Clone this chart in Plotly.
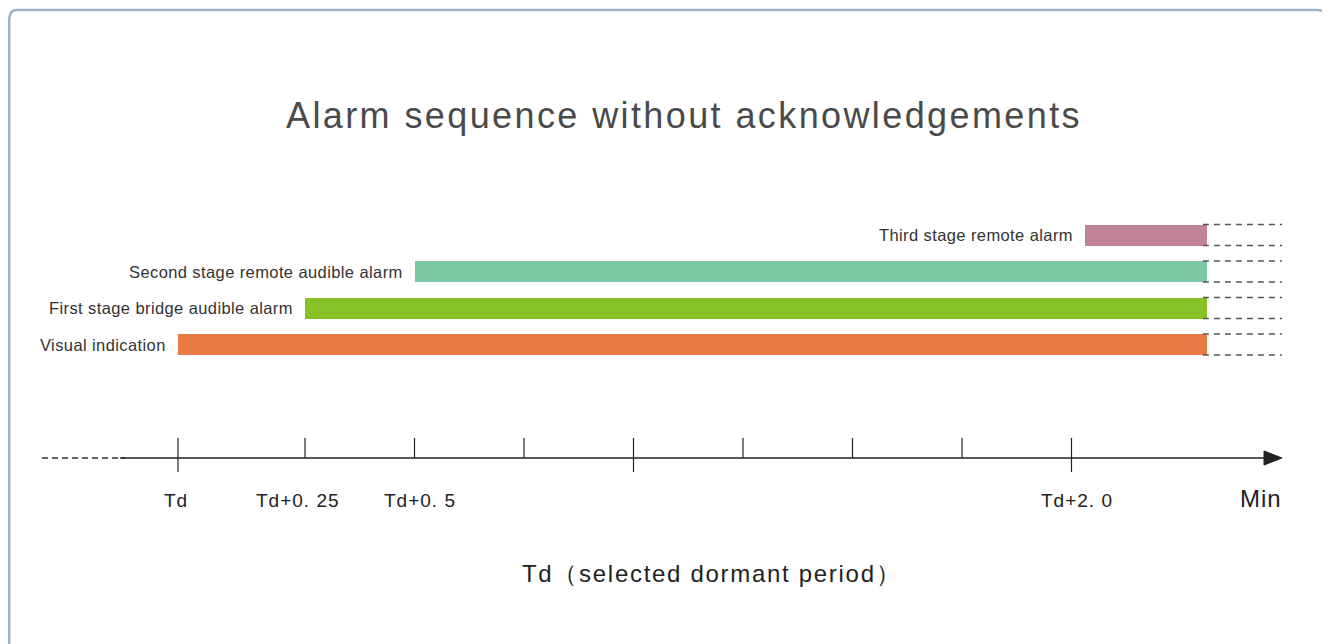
import plotly.graph_objects as go

# ---- data ----
stages = ["Visual indication", "First stage bridge audible alarm",
          "Second stage remote audible alarm", "Third stage remote alarm"]
start_min = [-0.04, 0.25, 0.5, 2.03]
end_min = [2.31, 2.31, 2.31, 2.31]
bar_colors = ["#E97A45", "#86C226", "#7BC6A4", "#C08298"]

tick_pos = [-0.04, 0.25, 0.5, 0.75, 1.0, 1.25, 1.5, 1.75, 2.0]
major_ticks = [-0.04, 1.0, 2.0]
tick_labels = ["Td", "Td+0. 25", "Td+0. 5", "Td+2. 0"]
tick_label_pos = [-0.04, 0.25, 0.5, 2.0]

title_text = "Alarm sequence without acknowledgements"
axis_caption = "Td（selected dormant period）"
unit_text = "Min"

# ---- layout constants (screen pixels; page body has an 8px margin) ----
W, H = 1330, 644
OFF = 8
X0_PX, PX_PER_MIN = 195.5 - OFF, 438.0     # paper pixel of t=0 and scale
ROW0_PX, PX_PER_ROW = 344.5 - OFF, 36.5    # paper pixel of row 0 and row spacing
x_range = [(0 - X0_PX) / PX_PER_MIN, (W - X0_PX) / PX_PER_MIN]
y_range = [(ROW0_PX - H) / PX_PER_ROW, (ROW0_PX - 0) / PX_PER_ROW]
FONT = "Liberation Sans, Arial, sans-serif"
label_xshift = [-2, -7, 5, 5]   # small visual nudges of tick labels

def ypx(p):
    return (ROW0_PX - (p - OFF)) / PX_PER_ROW

def xpx(p):
    return ((p - OFF) - X0_PX) / PX_PER_MIN

def spaced(text, sp):
    return f'<span style="letter-spacing:{sp}px">{text}</span>'

rows = list(range(len(stages)))
bar_w = 21 / PX_PER_ROW

fig = go.Figure()

fig.add_trace(go.Bar(
    y=rows, x=[e - s for s, e in zip(start_min, end_min)], base=start_min,
    orientation="h", width=bar_w, marker=dict(color=bar_colors, line=dict(width=0)),
    hoverinfo="skip", showlegend=False))

# dashed continuation lines at bar edges
for r, e in zip(rows, end_min):
    for edge in (r + bar_w / 2, r - bar_w / 2):
        fig.add_trace(go.Scatter(x=[e - 0.01, xpx(1282)], y=[edge, edge], mode="lines",
                                 line=dict(color="#555555", width=1.3, dash="6px,5px"),
                                 hoverinfo="skip", showlegend=False))

# stage labels
for r, s, name in zip(rows, start_min, stages):
    fig.add_annotation(x=s, y=r, text=spaced(name, 0.4), showarrow=False, xanchor="right",
                       yanchor="middle", xshift=-10,
                       font=dict(family=FONT, size=16.5, color="#333333"))

# time axis
axis_y = ypx(458)
fig.add_trace(go.Scatter(x=[xpx(42), xpx(125)], y=[axis_y, axis_y], mode="lines",
                         line=dict(color="#333333", width=1.3, dash="6px,4px"),
                         hoverinfo="skip", showlegend=False))
fig.add_trace(go.Scatter(x=[xpx(120), xpx(1268)], y=[axis_y, axis_y], mode="lines",
                         line=dict(color="#222222", width=1.5),
                         hoverinfo="skip", showlegend=False))
# arrow head
fig.add_trace(go.Scatter(x=[xpx(1264), xpx(1282), xpx(1264), xpx(1264)],
                         y=[axis_y + 7 / PX_PER_ROW, axis_y, axis_y - 7 / PX_PER_ROW, axis_y + 7 / PX_PER_ROW],
                         mode="lines", fill="toself", fillcolor="#222222",
                         line=dict(color="#222222", width=1), hoverinfo="skip", showlegend=False))
# ticks
for t in tick_pos:
    bottom = ypx(472) if t in major_ticks else axis_y
    fig.add_trace(go.Scatter(x=[t, t], y=[ypx(438), bottom], mode="lines",
                             line=dict(color="#222222", width=1.2),
                             hoverinfo="skip", showlegend=False))
for t, lab, sh in zip(tick_label_pos, tick_labels, label_xshift):
    fig.add_annotation(x=t, y=ypx(500), text=spaced(lab, 1.0), showarrow=False,
                       xanchor="center", yanchor="middle", xshift=sh,
                       font=dict(family=FONT, size=19, color="#222222"))

fig.add_annotation(x=xpx(1261), y=ypx(498), text=spaced(unit_text, 1), showarrow=False,
                   xanchor="center", yanchor="middle",
                   font=dict(family=FONT, size=24, color="#222222"))
fig.add_annotation(x=(712 - OFF) / W, y=1 - (573 - OFF) / H, xref="paper", yref="paper",
                   text=spaced(axis_caption, 1.7), showarrow=False,
                   xanchor="center", yanchor="middle",
                   font=dict(family=FONT, size=24, color="#222222"))
fig.add_annotation(x=(684 - OFF) / W, y=1 - (116 - OFF) / H, xref="paper", yref="paper",
                   text=spaced(title_text, 2.4), showarrow=False,
                   xanchor="center", yanchor="middle",
                   font=dict(family=FONT, size=36, color="#4a4a4a"))

# rounded border
def P(x, y):
    return f"{max(x - OFF, 1.2) / W:.5f},{1 - (y - OFF) / H:.5f}"
L, T, R, B, rad = 7, 10, 1327, 670, 10
path = (f"M {P(L + rad, T)} L {P(R - rad, T)} Q {P(R, T)} {P(R, T + rad)} "
        f"L {P(R, B)} L {P(L, B)} L {P(L, T + rad)} Q {P(L, T)} {P(L + rad, T)} Z")
fig.add_shape(type="path", path=path, xref="paper", yref="paper",
              line=dict(color="#9DB4C8", width=2.5))

fig.update_layout(
    width=W, height=H, margin=dict(l=0, r=0, t=0, b=0),
    paper_bgcolor="white", plot_bgcolor="white",
    xaxis=dict(range=x_range, visible=False, fixedrange=True),
    yaxis=dict(range=y_range, visible=False, fixedrange=True),
    bargap=0, showlegend=False)

fig.write_html("out.html")
